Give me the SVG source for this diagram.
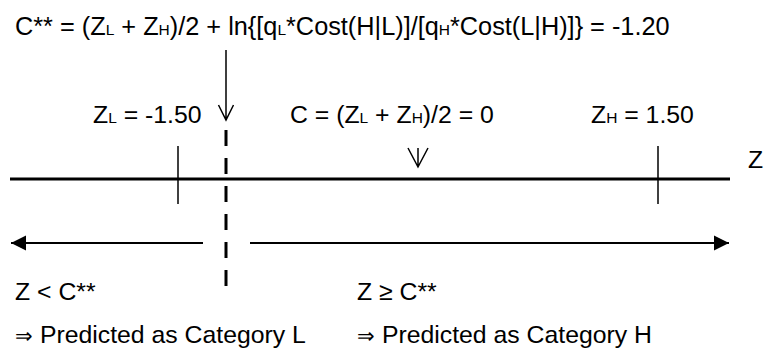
<svg xmlns="http://www.w3.org/2000/svg" width="764" height="351" viewBox="0 0 764 351">
<defs>
<style>
text{font-family:"Liberation Sans",Arial,sans-serif;font-size:24.8px;fill:#000}
.t{font-size:25.3px}
.s{font-size:15.5px}
.thin{stroke:#000;stroke-width:1.5;fill:none}
</style>
<marker id="tri" markerWidth="16" markerHeight="16" viewBox="0 0 16 16" refX="15" refY="8" orient="auto" markerUnits="userSpaceOnUse">
<path d="M0,0.5 L15,8 L0,15.5 Z" fill="#000"/>
</marker>
</defs>
<rect width="764" height="351" fill="#fff"/>
<g id="title"><text class="t" x="15" y="35">C** = (Z<tspan class="s">L</tspan> + Z<tspan class="s">H</tspan>)/2 + ln{[q<tspan class="s">L</tspan>*Cost(H|L)]/[q<tspan class="s">H</tspan>*Cost(L|H)]} = -1.20</text></g>
<g id="zl-label"><text x="93" y="123">Z<tspan class="s">L</tspan> = -1.50</text></g>
<g id="c-label"><text x="290" y="123">C = (Z<tspan class="s">L</tspan> + Z<tspan class="s">H</tspan>)/2 = 0</text></g>
<g id="zh-label"><text x="591" y="123">Z<tspan class="s">H</tspan> = 1.50</text></g>
<g id="z-axis-label"><text x="748" y="168">Z</text></g>
<g id="left-label"><text x="15" y="300">Z &lt; C**</text><text x="15" y="343"><tspan font-size="21">⇒</tspan> Predicted as Category L</text></g>
<g id="right-label"><text x="357" y="300">Z ≥ C**</text><text x="357" y="343"><tspan font-size="21">⇒</tspan> Predicted as Category H</text></g>
<g id="connectors">
<line x1="10" y1="179" x2="730" y2="179" stroke="#000" stroke-width="3"/>
<line class="thin" x1="178" y1="146" x2="178" y2="204"/>
<line class="thin" x1="658" y1="146" x2="658" y2="204"/>
<line x1="226" y1="130" x2="226" y2="286" stroke="#000" stroke-width="3" stroke-dasharray="16 12"/>
<path class="thin" d="M226,50 V120 M218.5,105 L226,120 L233.5,105"/>
<path class="thin" d="M418,148 V167 M408,148 L418,167 L428,148"/>
<line x1="203" y1="243" x2="11" y2="243" stroke="#000" stroke-width="2" marker-end="url(#tri)"/>
<line x1="250" y1="243" x2="729" y2="243" stroke="#000" stroke-width="2" marker-end="url(#tri)"/>
</g>
</svg>
